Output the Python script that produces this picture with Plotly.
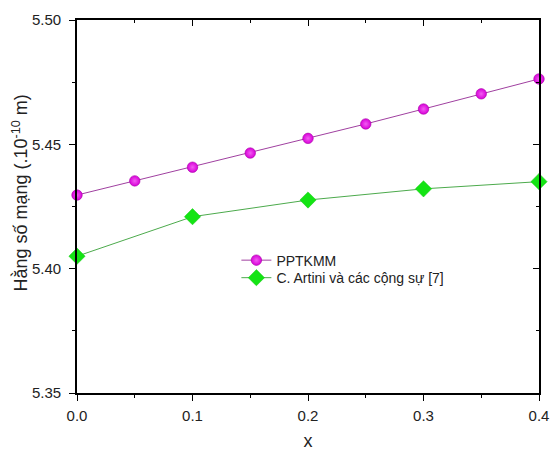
import plotly.graph_objects as go

# Lattice constant vs. composition x
x_pptkmm = [0.0, 0.05, 0.1, 0.15, 0.2, 0.25, 0.3, 0.35, 0.4]
a_pptkmm = [5.4296, 5.4353, 5.4408, 5.4465, 5.4524, 5.4582, 5.4642, 5.4703, 5.4763]

x_artini = [0.0, 0.1, 0.2, 0.3, 0.4]
a_artini = [5.4050, 5.4209, 5.4276, 5.4321, 5.4350]

name_pptkmm = "PPTKMM"
name_artini = "C. Artini và các cộng sự [7]"

x_ticks = [0.0, 0.1, 0.2, 0.3, 0.4]
x_ticklabels = ["0.0", "0.1", "0.2", "0.3", "0.4"]
y_ticks = [5.35, 5.40, 5.45, 5.50]
y_ticklabels = ["5.35", "5.40", "5.45", "5.50"]

FONT = "Liberation Sans, Arial, sans-serif"

fig = go.Figure()

fig.add_trace(go.Scatter(
    x=x_pptkmm, y=a_pptkmm, name=name_pptkmm, mode="lines+markers",
    line=dict(color="#a040a0", width=1),
    marker=dict(symbol="circle", size=10.5, color="#d800d8",
                gradient=dict(type="radial", color="#f25cf2"),
                line=dict(color="#a800a8", width=0.6)),
    cliponaxis=False, legend="legend",
))
fig.add_trace(go.Scatter(
    x=x_artini, y=a_artini, name=name_artini, mode="lines+markers",
    line=dict(color="#4caa4c", width=1),
    marker=dict(symbol="diamond", size=12.5, color="#14e414",
                line=dict(color="#10c810", width=0.5)),
    cliponaxis=False, legend="legend2",
))

axis_common = dict(
    showline=True, linecolor="black", linewidth=1.6,
    showgrid=False, zeroline=False, automargin=False,
    tickcolor="black", tickwidth=1.3, ticklen=6,
)
tick_font = dict(family=FONT, size=15, color="#222")
legend_common = dict(x=0.345, xanchor="left", yanchor="top",
                     bgcolor="rgba(0,0,0,0)", borderwidth=0,
                     font=dict(family=FONT, size=14, color="#222"),
                     itemwidth=30)

fig.update_layout(
    width=551, height=451,
    margin=dict(l=77, r=12, t=20, b=58),
    paper_bgcolor="white", plot_bgcolor="white",
    showlegend=True,
    legend=dict(y=0.398, **legend_common),
    legend2=dict(y=0.351, **legend_common),
    xaxis=dict(range=[0, 0.4], tickvals=x_ticks, ticktext=x_ticklabels,
               ticks="outside", tickfont=tick_font, ticklabelstandoff=2,
               minor=dict(dtick=0.05, ticks="outside", ticklen=3,
                          tickcolor="black", tickwidth=1.2),
               title=dict(text="x", font=dict(family=FONT, size=18, color="#222"),
                          standoff=14),
               **axis_common),
    yaxis=dict(range=[5.35, 5.50], tickvals=y_ticks, ticktext=y_ticklabels,
               ticks="outside", tickfont=tick_font, ticklabelstandoff=5,
               minor=dict(dtick=0.025, ticks="outside", ticklen=3,
                          tickcolor="black", tickwidth=1.2),
               **axis_common),
    xaxis2=dict(range=[0, 0.4], overlaying="x", side="top",
                tickvals=x_ticks, showticklabels=False, ticks="inside",
                minor=dict(dtick=0.05, ticks="inside", ticklen=3,
                           tickcolor="black", tickwidth=1.2),
                **axis_common),
    yaxis2=dict(range=[5.35, 5.50], overlaying="y", side="right",
                tickvals=y_ticks, showticklabels=False, ticks="inside",
                minor=dict(dtick=0.025, ticks="inside", ticklen=3,
                           tickcolor="black", tickwidth=1.2),
                **axis_common),
)

# empty trace bound to the mirrored top/right axes
fig.add_trace(go.Scatter(x=[None], y=[None], xaxis="x2", yaxis="y2",
                         showlegend=False, hoverinfo="skip"))

fig.add_annotation(
    text="Hằng số mạng (.10<sup>-10</sup> m)",
    xref="paper", yref="paper", x=-0.123, y=0.535,
    xanchor="center", yanchor="middle",
    textangle=-90, showarrow=False,
    font=dict(family=FONT, size=18, color="#222"),
)

fig.write_html("out.html")
